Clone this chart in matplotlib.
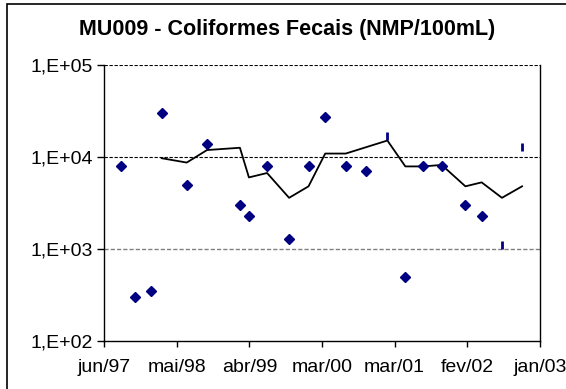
import matplotlib
matplotlib.use("Agg")
import matplotlib.pyplot as plt
import numpy as np
import pandas as pd
from matplotlib.patches import Rectangle


# =========================================================
# Data
# =========================================================
TITLE = "MU009 - Coliformes Fecais (NMP/100mL)"

# individual samples (diamonds)
sample_dates = [
    "1997-09-03", "1997-11-06", "1998-01-20", "1998-03-12", "1998-07-07",
    "1998-10-10", "1999-03-13", "1999-04-24", "1999-07-18", "1999-10-29",
    "2000-01-28", "2000-04-15", "2000-07-20", "2000-10-21", "2001-04-25",
    "2001-07-18", "2001-10-12", "2002-01-31", "2002-04-17",
]
sample_values = [
    8000, 300, 350, 30000, 5000,
    14000, 3000, 2300, 8000, 1300,
    8000, 27000, 8000, 7000, 500,
    8000, 8000, 3000, 2300,
]

# censored samples (short bars)
bar_dates = ["2001-01-31", "2002-07-21", "2002-10-23"]
bar_values = [17000, 1100, 13000]

# running mean (black line)
mean_dates = [
    "1998-03-12", "1998-07-07", "1998-10-10", "1999-03-13", "1999-04-24",
    "1999-07-18", "1999-10-29", "2000-01-28", "2000-04-15", "2000-07-20",
    "2001-01-31", "2001-04-25", "2001-07-18", "2001-10-12", "2002-01-31",
    "2002-04-17", "2002-07-21", "2002-10-23",
]
mean_values = [
    9700, 8700, 11900, 12600, 6000,
    6700, 3600, 4800, 10900, 10900,
    15100, 7900, 7900, 8200, 4800,
    5300, 3600, 4800,
]

AXIS_START = "1997-06-15"
AXIS_STEP_DAYS = 340
x_tick_labels = ["jun/97", "mai/98", "abr/99", "mar/00", "mar/01", "fev/02", "jan/03"]
y_ticks = [1e2, 1e3, 1e4, 1e5]
y_tick_labels = ["1,E+02", "1,E+03", "1,E+04", "1,E+05"]

FONT = "Liberation Sans"
MARKER_COLOR = "#000080"


def to_days(dates):
    return (pd.to_datetime(dates) - pd.Timestamp(AXIS_START)).days.to_numpy()


def main() -> None:
    plt.rcParams["font.family"] = FONT

    W, H = 566, 389
    fig = plt.figure(figsize=(W / 100, H / 100), dpi=100)

    # chart area border
    fig.patches.append(Rectangle((7 / W, -0.1), 1.2, 1 - 3.5 / H + 0.1,
                                 transform=fig.transFigure, fill=False,
                                 edgecolor="black", linewidth=1.2))

    left, right, top, bottom = 104, 540, 65, 341
    ax = fig.add_axes([left / W, 1 - bottom / H, (right - left) / W, (bottom - top) / H])

    n_ticks = len(x_tick_labels)
    x_ticks = np.arange(n_ticks) * AXIS_STEP_DAYS

    ax.set_yscale("log")
    ax.set_ylim(1e2, 1e5)
    ax.set_xlim(x_ticks[0], x_ticks[-1])

    # horizontal gridlines
    ax.axhline(1e5, color="black", linewidth=0.8, linestyle=(0, (3, 1.5)), zorder=1)
    ax.axhline(1e4, color="black", linewidth=0.8, linestyle=(0, (3, 1.5)), zorder=1)
    ax.axhline(1e3, color="gray", linewidth=1.0, linestyle=(0, (3, 1.5)), zorder=1)

    ax.plot(to_days(mean_dates), mean_values, color="black", linewidth=1.3, zorder=2)
    ax.plot(to_days(sample_dates), sample_values, linestyle="none", marker="D",
            markersize=5, color=MARKER_COLOR, zorder=3)
    ax.plot(to_days(bar_dates), bar_values, linestyle="none", marker="|",
            markersize=6, markeredgewidth=2, color=MARKER_COLOR, zorder=3)

    ax.set_yticks(y_ticks)
    ax.set_yticklabels(y_tick_labels)
    ax.yaxis.set_minor_locator(matplotlib.ticker.NullLocator())
    ax.set_xticks(x_ticks)
    ax.set_xticklabels(x_tick_labels)

    ax.tick_params(axis="y", direction="out", length=5, width=1, labelsize=14, pad=3)
    ax.tick_params(axis="x", direction="out", length=4, width=1, labelsize=14, pad=9)

    ax.spines["top"].set_visible(False)
    for side in ("left", "bottom", "right"):
        ax.spines[side].set_linewidth(1.0)

    fig.text(287 / W, 1 - 29 / H, TITLE, ha="center", va="center",
             fontsize=15.5, fontweight="bold")

    fig.savefig("out.png", dpi=100)
    plt.close(fig)


if __name__ == "__main__":
    main()
